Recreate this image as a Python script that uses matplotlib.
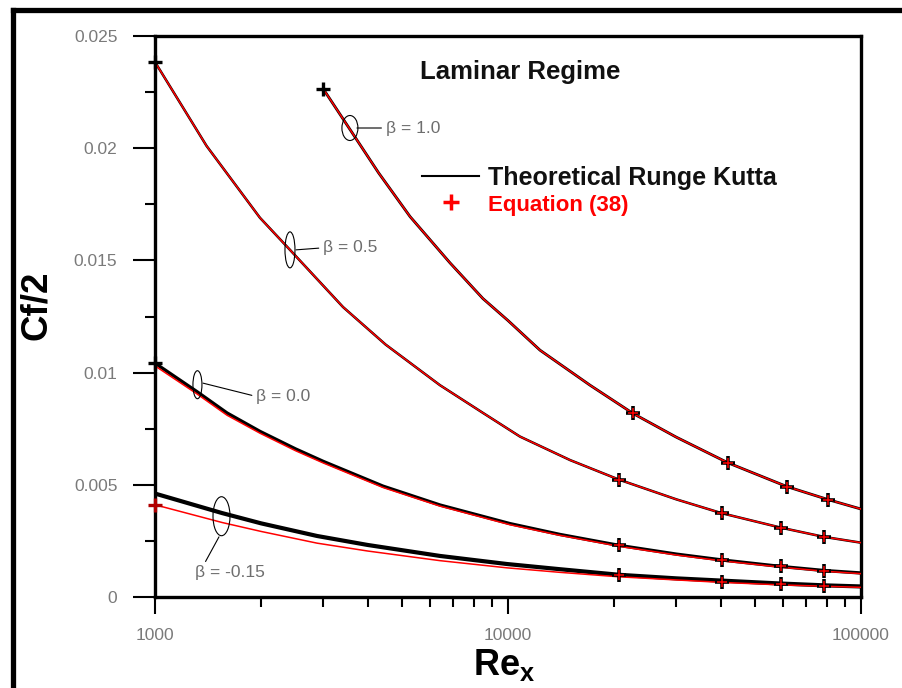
import numpy as np
import matplotlib
matplotlib.use("Agg")
import matplotlib.pyplot as plt
import matplotlib.transforms as mtransforms
from matplotlib.patches import Ellipse
from matplotlib.lines import Line2D

plt.rcParams['font.family'] = ['Liberation Sans', 'DejaVu Sans']
plt.rcParams['mathtext.fontset'] = 'custom'
plt.rcParams['mathtext.bf'] = 'Liberation Sans:bold'
plt.rcParams['mathtext.rm'] = 'Liberation Sans'

# ---------------- data ----------------
re_b10 = [3000, 3566, 4300, 5280, 6850, 8490, 10000, 12320, 17070, 22600, 30000, 42000, 61700, 80700, 100000]
rk_b10 = [0.02263, 0.02084, 0.0189, 0.01695, 0.01489, 0.01330, 0.01232, 0.0110, 0.00944, 0.00818, 0.00712, 0.00598, 0.00492, 0.00434, 0.00392]
eq_b10 = [0.02263, 0.02084, 0.0189, 0.01695, 0.01489, 0.01330, 0.01232, 0.0110, 0.00944, 0.00818, 0.00712, 0.00598, 0.00492, 0.00434, 0.00392]

re_b05 = [1000, 1400, 1983, 2412, 3410, 4500, 6415, 8500, 10810, 15000, 20630, 30000, 40400, 59300, 78500, 100000]
rk_b05 = [0.02384, 0.0201, 0.0169, 0.01547, 0.01292, 0.01125, 0.00944, 0.0082, 0.00715, 0.0061, 0.00523, 0.00435, 0.00373, 0.00309, 0.00268, 0.00242]
eq_b05 = [0.02384, 0.0201, 0.0169, 0.01547, 0.01292, 0.01125, 0.00944, 0.0082, 0.00715, 0.0061, 0.00523, 0.00435, 0.00373, 0.00309, 0.00268, 0.00242]

re_b00 = [1000, 1315, 1600, 1983, 2500, 3000, 4425, 6415, 10130, 14000, 20630, 30000, 40400, 59300, 78500, 100000]
rk_b00 = [0.01042, 0.00915, 0.0082, 0.00738, 0.0066, 0.00604, 0.00494, 0.0041, 0.00327, 0.00279, 0.0023, 0.00191, 0.00165, 0.00136, 0.00118, 0.00107]
eq_b00 = [0.01030, 0.00905, 0.0081, 0.0073, 0.00652, 0.00597, 0.00488, 0.00405, 0.00322, 0.00275, 0.00226, 0.00187, 0.00161, 0.00133, 0.00115, 0.00104]

re_bm15 = [1000, 1549, 2000, 2877, 4000, 6415, 9930, 14000, 20630, 30000, 40400, 59300, 78500, 100000]
rk_bm15 = [0.00461, 0.00374, 0.00328, 0.00272, 0.00232, 0.00183, 0.00147, 0.00124, 0.00099, 0.00083, 0.00073, 0.0006, 0.00052, 0.00047]
eq_bm15 = [0.00411, 0.00332, 0.00292, 0.00240, 0.00205, 0.00162, 0.0013, 0.0011, 0.0009, 0.00076, 0.00065, 0.00054, 0.00048, 0.00043]

# Equation (38) marker points
mk_re_b10 = [22600, 42000, 61700, 80700]
mk_cf_b10 = [0.00818, 0.00598, 0.00492, 0.00434]
mk_re_b05 = [20630, 40400, 59300, 78500]
mk_cf_b05 = [0.00523, 0.00373, 0.00309, 0.00268]
mk_re_b00 = [20630, 40400, 59300, 78500]
mk_cf_b00 = [0.0023, 0.00165, 0.00136, 0.00118]
mk_re_bm15 = [20630, 40400, 59300, 78500]
mk_cf_bm15 = [0.00096, 0.00069, 0.00057, 0.00050]

x_ticks = [1000, 10000, 100000]
x_tick_labels = ['1000', '10000', '100000']
y_ticks = [0, 0.005, 0.01, 0.015, 0.02, 0.025]
y_tick_labels = ['0', '0.005', '0.01', '0.015', '0.02', '0.025']

beta_labels = ['β = 1.0', 'β = 0.5', 'β = 0.0', 'β = -0.15']

# ---------------- figure ----------------
fig = plt.figure(figsize=(9.02, 6.88), dpi=100)
ax = fig.add_axes([155/902, 1-597/688, 706/902, 561/688])

# outer frame (left + top)
fig.add_artist(Line2D([12.5/902, 12.5/902], [0, 1-10/688], transform=fig.transFigure, color='black', lw=3.8))
fig.add_artist(Line2D([12.5/902, 1.0], [1-10/688, 1-10/688], transform=fig.transFigure, color='black', lw=3.8))

series = [
    (re_b10, rk_b10, eq_b10, mk_re_b10, mk_cf_b10, 2.0),
    (re_b05, rk_b05, eq_b05, mk_re_b05, mk_cf_b05, 1.8),
    (re_b00, rk_b00, eq_b00, mk_re_b00, mk_cf_b00, 2.4),
    (re_bm15, rk_bm15, eq_bm15, mk_re_bm15, mk_cf_bm15, 3.0),
]
for i, (rx, rk, eq, mx, my, lw) in enumerate(series):
    ax.plot(rx, rk, color='black', lw=lw, zorder=3)
    ax.plot(rx, eq, color='red', lw=1.1, zorder=4)
    # start markers
    if i < 3:
        ax.plot(rx[:1], rk[:1], ls='none', marker='+', ms=10, mew=2.4, color='black', zorder=5, clip_on=False)
    else:
        ax.plot(rx[:1], eq[:1], ls='none', marker='+', ms=10, mew=2.4, color='#b00000', zorder=5, clip_on=False)
    ax.plot(mx, my, ls='none', marker='+', ms=10, mew=2.6, color='black', zorder=5)
    ax.plot(mx, my, ls='none', marker='+', ms=7, mew=1.1, color='red', zorder=6)

ax.set_xscale('log')
ax.set_xlim(1000, 100000)
ax.set_ylim(0, 0.025)
ax.set_xticks(x_ticks)
ax.set_xticklabels(x_tick_labels)
ax.set_yticks(y_ticks)
ax.set_yticklabels(y_tick_labels)
ax.set_yticks([0.0025, 0.0075, 0.0125, 0.0175, 0.0225], minor=True)
ax.xaxis.set_minor_locator(matplotlib.ticker.LogLocator(base=10, subs=np.arange(2, 10)))
ax.xaxis.set_minor_formatter(matplotlib.ticker.NullFormatter())

ax.tick_params(axis='both', which='both', direction='out', color='black', labelcolor='#7a7a7a', labelsize=12.5, width=1.5)
ax.tick_params(axis='y', which='major', length=16, pad=11)
ax.tick_params(axis='y', which='minor', length=7)
ax.tick_params(axis='x', which='major', length=12, pad=10)
ax.tick_params(axis='x', which='minor', length=7)
for s in ax.spines.values():
    s.set_linewidth(2.4)

ax.set_ylabel('Cf/2', fontsize=26.5, fontweight='bold', color='black')
ax.yaxis.label.set_va('center')
ax.yaxis.set_label_coords(-0.168, 0.52)
ax.set_xlabel(r'$\mathbf{Re_x}$', fontsize=26, color='black')
ax.xaxis.set_label_coords(0.494, -0.09)

# title inside axes
ax.text(0.3754, 0.936, 'Laminar Regime', transform=ax.transAxes, fontsize=18.5, fontweight='bold',
        ha='left', va='center', color='#111111')

# legend
h1 = Line2D([], [], color='black', lw=1.5)
h2 = Line2D([], [], color='red', ls='none', marker='+', ms=11, mew=2.5)
leg = ax.legend([h1, h2], ['Theoretical Runge Kutta', 'Equation (38)'], loc='upper left',
                bbox_to_anchor=(0.378, 0.7686), frameon=False, borderpad=0, borderaxespad=0,
                handlelength=2.3, handletextpad=0.35, labelspacing=0.15,
                prop={'size': 18, 'weight': 'bold'})
leg.get_texts()[0].set_color('#111111')
leg.get_texts()[1].set_color('red')
leg.get_texts()[1].set_fontsize(16)

# beta annotations: ellipse (centre, w px, h px), leader start, text position, relpos
ann = [
    ((3566, 0.02090), 16, 25, (3733, 0.0209), (4500, 0.0209), (0, 0.5)),
    ((2412, 0.01547), 10, 36, (2509, 0.01547), (2990, 0.01556), (0, 0.5)),
    ((1319, 0.00946), 9, 28, (1368, 0.00953), (1932, 0.00894), (0, 0.5)),
    ((1543, 0.00360), 17, 39, (1518, 0.00268), (1298, 0.00107), (0.12, 1.0)),
]
for (c, wpx, hpx, xy, xt, rp), lab in zip(ann, beta_labels):
    tr = fig.dpi_scale_trans + mtransforms.ScaledTranslation(c[0], c[1], ax.transData)
    ax.add_patch(Ellipse((0, 0), wpx/100, hpx/100, transform=tr, fill=False, ec='black', lw=0.8, zorder=7))
    ax.annotate(lab, xy=xy, xytext=xt, textcoords='data', fontsize=12.5, color='#6e6e6e',
                ha='left', va='center',
                arrowprops=dict(arrowstyle='-', lw=0.8, color='black', shrinkA=1, shrinkB=0, relpos=rp),
                zorder=7)

fig.savefig('out.png', dpi=100)
